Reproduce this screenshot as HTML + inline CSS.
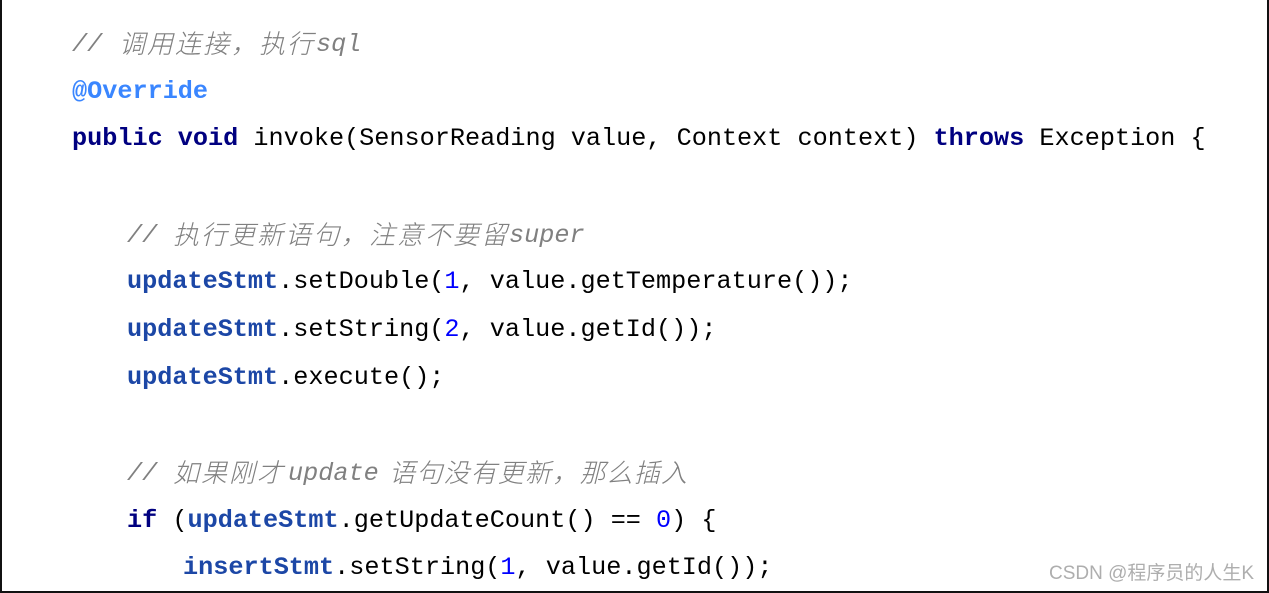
<!DOCTYPE html>
<html><head><meta charset="utf-8">
<style>
html,body{margin:0;padding:0;background:#fff}
#p{position:relative;width:1269px;height:593px;overflow:hidden;background:#fff}
.l{position:absolute;white-space:pre;font:25.2px/30px "Liberation Mono",monospace;color:#000}
.c{position:absolute;white-space:pre;font:italic 25.2px/30px "Liberation Mono","Noto Sans CJK SC",monospace;color:#808080}
.z{position:absolute;white-space:pre;font:italic 26px/30px "Noto Sans CJK SC","Liberation Sans",sans-serif;letter-spacing:2px;color:#808080;font-weight:300}
.k{color:#000080;font-weight:bold}
.f{color:#1c47a6;font-weight:bold}
.n{color:#0000ff}
.a{color:#3a86ff;font-weight:bold}
.w{position:absolute;left:1049px;top:562px;white-space:pre;font:19px/24px "Liberation Sans","Noto Sans CJK SC",sans-serif;color:#aeaeae}
.b{position:absolute;background:#111}
</style></head><body><div id="p">
<div class="c" style="left:72px;top:30px">//</div>
<div class="z" style="left:119px;top:28px">调用连接，执行</div>
<div class="c" style="left:316px;top:30px">sql</div>
<div class="l a" style="left:72px;top:77px">@Override</div>
<div class="l" style="left:72px;top:124px"><span class="k">public void</span> invoke(SensorReading value, Context context) <span class="k">throws</span> Exception {</div>
<div class="c" style="left:127px;top:221px">//</div>
<div class="z" style="left:173px;top:219px">执行更新语句，注意不要留</div>
<div class="c" style="left:509px;top:221px">super</div>
<div class="l" style="left:127px;top:267px"><span class="f">updateStmt</span>.setDouble(<span class="n">1</span>, value.getTemperature());</div>
<div class="l" style="left:127px;top:315px"><span class="f">updateStmt</span>.setString(<span class="n">2</span>, value.getId());</div>
<div class="l" style="left:127px;top:363px"><span class="f">updateStmt</span>.execute();</div>
<div class="c" style="left:127px;top:459px">//</div>
<div class="z" style="left:173px;top:457px">如果刚才</div>
<div class="c" style="left:288px;top:459px">update</div>
<div class="z" style="left:389px;top:457px;letter-spacing:1.2px">语句没有更新，那么插入</div>
<div class="l" style="left:127px;top:506px"><span class="k">if</span> (<span class="f">updateStmt</span>.getUpdateCount() == <span class="n">0</span>) {</div>
<div class="l" style="left:183px;top:553px"><span class="f">insertStmt</span>.setString(<span class="n">1</span>, value.getId());</div>
<div class="w">CSDN @程序员的人生K</div>
<div class="b" style="left:0;top:0;width:2px;height:593px"></div>
<div class="b" style="left:0;top:591px;width:1269px;height:2px"></div>
<div class="b" style="left:1267px;top:0;width:2px;height:593px"></div>
</div></body></html>
